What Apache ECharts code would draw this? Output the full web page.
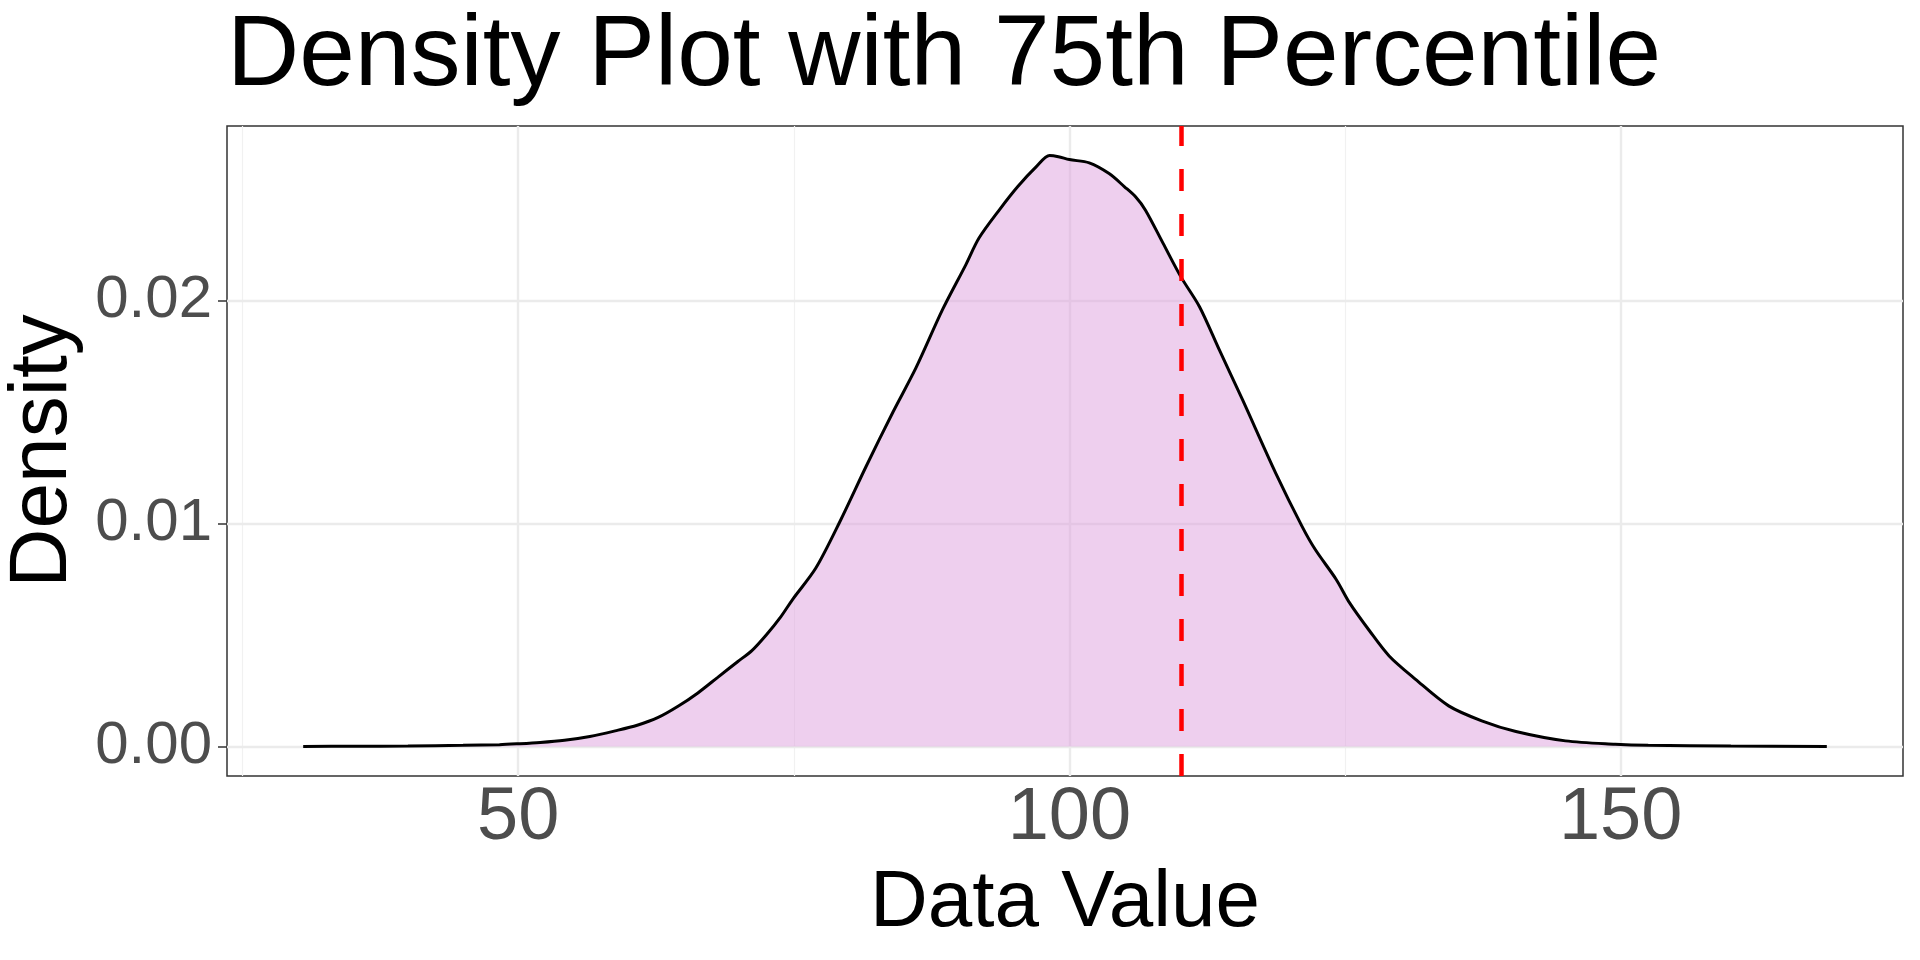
<!DOCTYPE html>
<html>
	<head>
		<meta charset="utf-8">
		<title>Density Plot with 75th Percentile</title>
		<style type="text/css">
			html,body {
				margin: 0;
				padding: 0;
				width: 100%;
				height: 100%;
				background: #FFFFFF;
			}
			#chart {
				width: 1920px;
				height: 960px;
			}
		</style>
	</head>
	<body>
		<div id="chart"></div>
	</body>
</html>
<script src="https://cdn.jsdelivr.net/npm/echarts@6/dist/echarts.min.js" type="text/javascript" charset="utf-8"></script>
<script type="text/javascript">
	// data values (x) and their kernel density (y)
	var xValues = [30.5, 35, 40, 45, 48.3, 50, 52, 54.2, 56.5, 58.8, 60.8, 62.7, 64.5, 66.3, 68.1, 69.9, 71.2, 72.5, 73.8, 74.9,
		77.0, 79.2, 81.6, 84.0, 86.1, 88.5, 90.6, 91.8, 93.7, 95.3, 97.0, 98.2, 99.0, 100.0, 101.8, 103.6, 105.0, 106.0, 106.9,
		108.5, 110.1, 111.8, 113.6, 115.7, 118.7, 121.1, 122.3, 124.2, 125.4, 127.2, 129.0, 131.4, 134.4, 137.4, 140.5, 145.0,
		149.5, 152.5, 160, 168.7];
	var densityValues = [0.0, 0.00001, 0.00002, 0.00005, 0.00008, 0.00012, 0.00018, 0.00028, 0.00045, 0.0007, 0.00095, 0.0013,
		0.0018, 0.0024, 0.0031, 0.0038, 0.0043, 0.0050, 0.0058, 0.0066, 0.0080, 0.0101, 0.0126, 0.0150, 0.0170, 0.0196, 0.0216,
		0.0228, 0.0241, 0.0251, 0.0260, 0.02650, 0.02645, 0.02632, 0.02617, 0.02569, 0.0251, 0.02465, 0.02405, 0.02256, 0.02107,
		0.01972, 0.01778, 0.01555, 0.01227, 0.00987, 0.00883, 0.00749, 0.00645, 0.0052, 0.00406, 0.00301, 0.00182, 0.00115,
		0.00067, 0.00025, 0.0001, 0.00005, 0.00002, 0.0];
	var percentile75 = 110.1;

	// breaks
	var xBreaks = [50, 100, 150];
	var xMinorBreaks = [25, 75, 125];
	var yBreaks = [0, 0.01, 0.02];
	var yMinorBreaks = [0.005, 0.015, 0.025];

	var myChart = echarts.init(document.getElementById('chart'));

	// ggplot style 5% expansion
	var xMin = Math.min.apply(null, xValues), xMax = Math.max.apply(null, xValues);
	var yMin = 0, yMax = Math.max.apply(null, densityValues);
	var xPad = (xMax - xMin) * 0.05, yPad = (yMax - yMin) * 0.05;

	var points = xValues.map(function (x, i) { return [x, densityValues[i]]; });

	var gridLines = [];
	xMinorBreaks.forEach(function (v) { gridLines.push({ xAxis: v, lineStyle: { color: '#F1F1F1', width: 1.2, type: 'solid' } }); });
	yMinorBreaks.forEach(function (v) { gridLines.push({ yAxis: v, lineStyle: { color: '#F1F1F1', width: 1.2, type: 'solid' } }); });
	xBreaks.forEach(function (v) { gridLines.push({ xAxis: v, lineStyle: { color: '#EBEBEB', width: 2.4, type: 'solid' } }); });
	yBreaks.forEach(function (v) { gridLines.push({ yAxis: v, lineStyle: { color: '#EBEBEB', width: 2.4, type: 'solid' } }); });

	var fontName = '"Liberation Sans", Arial, Helvetica, sans-serif';

	var option = {
		animation: false,
		backgroundColor: '#FFFFFF',
		title: {
			text: 'Density Plot with 75th Percentile',
			left: 222,
			top: 2,
			textStyle: {
				fontFamily: fontName,
				fontSize: 100,
				fontWeight: 'normal',
				color: '#000000'
			}
		},
		grid: {
			left: 227,
			right: 17,
			top: 126,
			bottom: 184,
			outerBoundsMode: 'none',
			containLabel: false,
			show: true,
			borderColor: '#333333',
			borderWidth: 1.5,
			backgroundColor: 'transparent'
		},
		xAxis: {
			type: 'value',
			min: xMin - xPad,
			max: xMax + xPad,
			name: 'Data Value',
			nameLocation: 'middle',
			nameGap: 88,
			nameTextStyle: { fontFamily: fontName, fontSize: 80, color: '#000000' },
			axisLine: { show: false },
			axisTick: { show: true, length: 9, customValues: xBreaks, lineStyle: { color: '#333333', width: 1.5 } },
			axisLabel: {
				customValues: xBreaks,
				margin: 6,
				fontFamily: fontName,
				fontSize: 74,
				color: '#4D4D4D'
			},
			splitLine: { show: false }
		},
		yAxis: {
			type: 'value',
			min: yMin - yPad,
			max: yMax + yPad,
			name: 'Density',
			nameLocation: 'middle',
			nameGap: 136,
			nameRotate: 90,
			nameTextStyle: { fontFamily: fontName, fontSize: 82, color: '#000000' },
			axisLine: { show: false },
			axisTick: { show: true, length: 9, customValues: yBreaks, lineStyle: { color: '#333333', width: 1.5 } },
			axisLabel: {
				customValues: yBreaks,
				margin: 15,
				fontFamily: fontName,
				fontSize: 60,
				color: '#4D4D4D',
				formatter: function (v) { return v.toFixed(2); }
			},
			splitLine: { show: false }
		},
		series: [
			{
				// panel grid lines
				type: 'line',
				data: [],
				z: 1,
				silent: true,
				markLine: {
					z: 1,
					silent: true,
					symbol: 'none',
					label: { show: false },
					animation: false,
					data: gridLines
				}
			},
			{
				type: 'line',
				data: points,
				z: 3,
				smooth: 0.3,
				showSymbol: false,
				symbol: 'none',
				lineStyle: { color: '#000000', width: 3 },
				areaStyle: { color: '#DDA0DD', opacity: 0.5 },
				markLine: {
					z: 6,
					silent: true,
					symbol: 'none',
					label: { show: false },
					animation: false,
					lineStyle: { color: '#FF0000', width: 4.5, type: [22, 23] },
					data: [{ xAxis: percentile75 }]
				}
			}
		]
	};
	myChart.setOption(option, true);
</script>
